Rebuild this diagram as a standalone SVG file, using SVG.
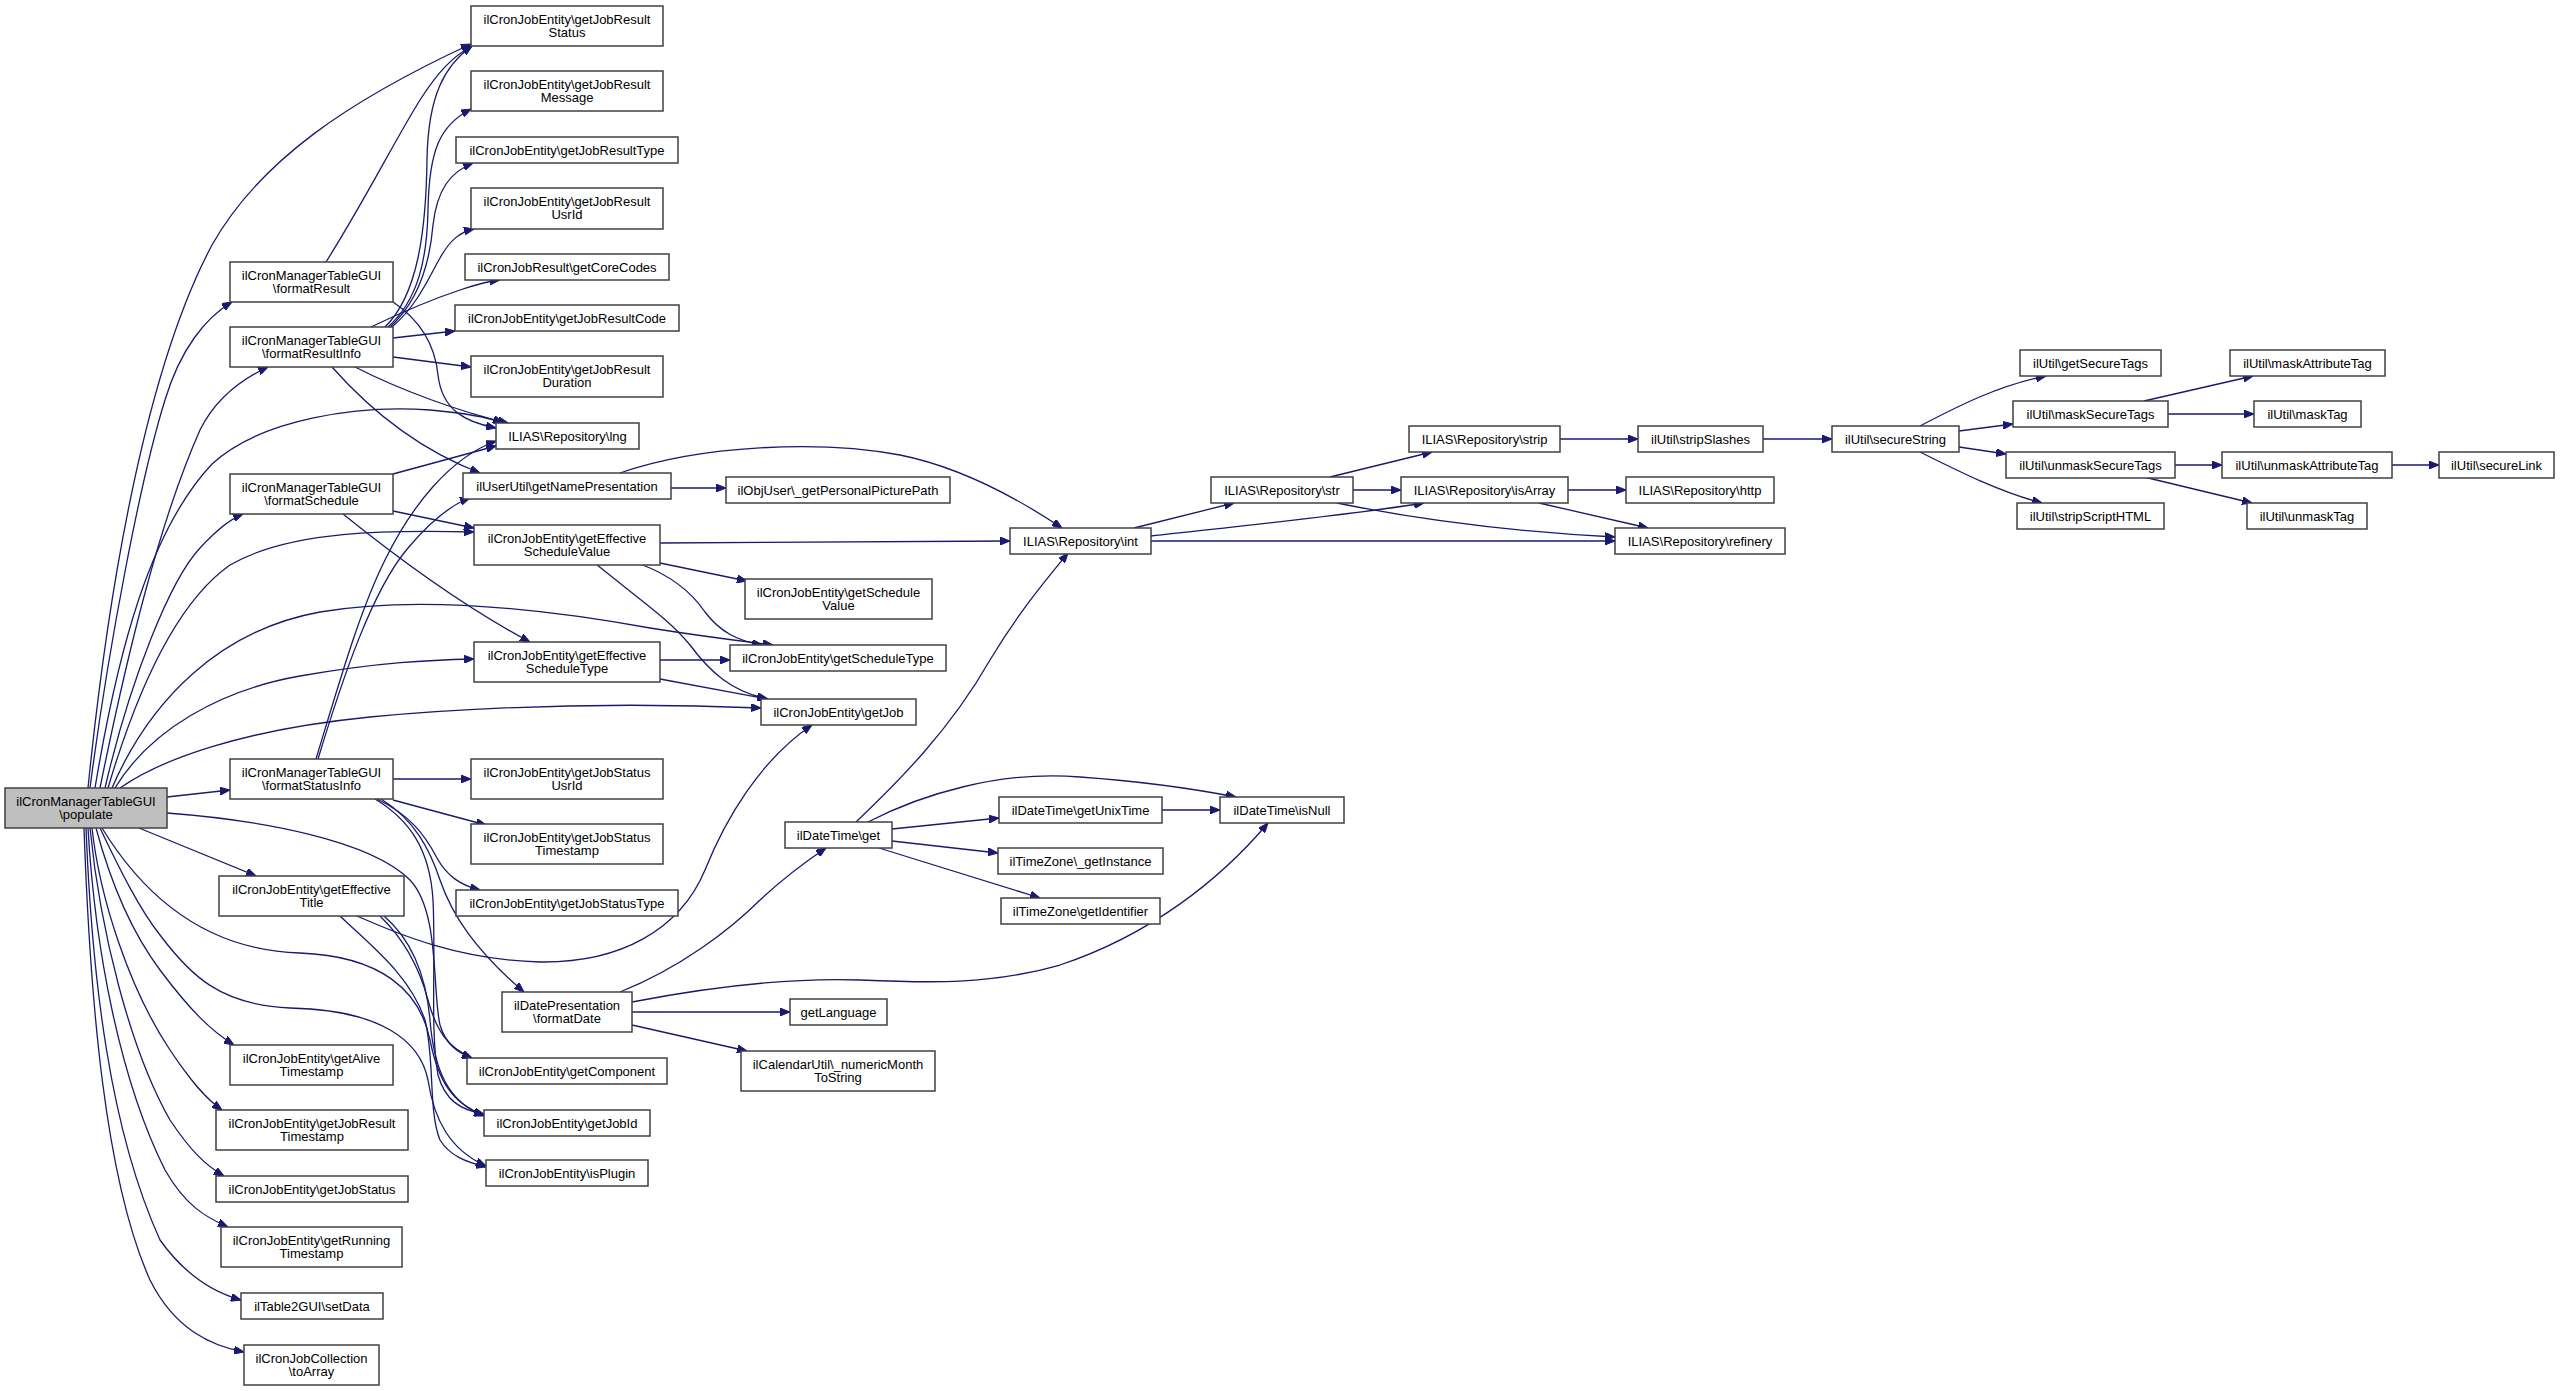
<svg xmlns="http://www.w3.org/2000/svg" width="2560" height="1391" viewBox="0 0 2560 1391">
<style>
.n rect{fill:#ffffff;stroke:#404040;stroke-width:1.5}
.n.root rect{fill:#bfbfbf}
.n text{font-family:"Liberation Sans",Arial,sans-serif;font-size:13px;fill:#000;text-anchor:middle}
.e path{fill:none;stroke:#191970;stroke-width:1.3;marker-end:url(#arr)}
</style>
<defs>
<marker id="arr" viewBox="0 0 10 8" refX="10" refY="4" markerWidth="10" markerHeight="8" markerUnits="userSpaceOnUse" orient="auto">
<path d="M0,0 L10,4 L0,8 z" fill="#191970" stroke="#191970" stroke-width="1"/>
</marker>
</defs>
<rect width="2560" height="1391" fill="#ffffff"/>
<g id="edges" class="e">
<path d="M88,788 C105,620 140,380 212,245 C260,160 350,100 471,44"/>
<path d="M326,262 C365,200 395,140 420,100 C438,72 452,57 472,46"/>
<path d="M385,327 C418,295 426,230 427,160 C428,95 445,65 472,46"/>
<path d="M388,327 C418,300 427,260 428,210 C429,150 440,125 471,109"/>
<path d="M390,327 C420,300 430,260 433,225 C437,190 450,172 473,163"/>
<path d="M392,327 C418,305 430,275 440,258 C450,240 460,232 474,229"/>
<path d="M371,327 C400,313 430,300 460,290 C475,285 488,281 500,280"/>
<path d="M393,338 L455,331"/>
<path d="M393,357 L471,367"/>
<path d="M355,367 C400,390 460,412 508,423"/>
<path d="M332,367 C370,410 420,450 480,473"/>
<path d="M393,302 C420,320 435,345 438,375 C442,410 465,422 496,428"/>
<path d="M95,788 C118,650 150,530 212,464 C262,418 360,405 430,410 C465,413 490,418 503,423"/>
<path d="M316,759 C340,680 360,610 385,560 C412,505 450,458 496,441"/>
<path d="M318,759 C342,680 372,590 408,548 C430,522 450,505 470,498"/>
<path d="M393,474 L496,446"/>
<path d="M393,511 L474,528"/>
<path d="M343,514 C400,560 470,610 530,642"/>
<path d="M90,788 C108,650 140,480 165,400 C180,350 205,318 232,302"/>
<path d="M100,788 C128,650 160,520 200,430 C215,400 240,380 268,367"/>
<path d="M105,788 C130,680 170,580 200,548 C215,532 228,520 243,514"/>
<path d="M108,788 C140,680 180,600 230,565 C290,530 390,530 474,532"/>
<path d="M112,788 C150,700 220,630 320,612 C420,595 550,610 650,628 C700,636 740,641 773,645"/>
<path d="M115,788 C150,730 220,690 300,676 C380,662 430,660 474,659"/>
<path d="M120,788 C160,760 240,730 370,717 C500,705 640,703 761,708"/>
<path d="M167,797 L230,790"/>
<path d="M139,828 L256,876"/>
<path d="M167,813 C260,820 370,840 410,880 C440,912 432,990 440,1025 C446,1045 458,1053 472,1058"/>
<path d="M102,828 C140,890 200,950 300,953 C380,956 420,990 430,1040 C438,1080 452,1104 484,1115"/>
<path d="M100,828 C120,870 140,910 160,935 C190,975 220,1005 290,1008 C380,1010 420,1040 428,1080 C434,1120 450,1150 486,1166"/>
<path d="M96,828 C110,880 130,930 160,970 C190,1010 210,1030 234,1045"/>
<path d="M92,828 C100,900 130,990 170,1050 C190,1080 205,1098 222,1110"/>
<path d="M90,828 C100,930 130,1050 170,1120 C190,1150 205,1165 224,1176"/>
<path d="M88,828 C95,950 120,1080 165,1170 C185,1205 205,1217 228,1227"/>
<path d="M86,828 C92,980 110,1130 160,1240 C185,1275 212,1292 241,1300"/>
<path d="M84,828 C90,1000 105,1180 150,1280 C175,1330 212,1346 244,1352"/>
<path d="M357,916 C400,935 460,960 540,962 C620,963 680,930 705,870 C725,820 760,760 812,725"/>
<path d="M340,916 C370,945 410,975 425,1020 C435,1060 428,1110 440,1140 C450,1156 466,1162 486,1167"/>
<path d="M380,916 C405,940 420,970 428,1000 C436,1030 448,1048 472,1058"/>
<path d="M384,916 C412,940 426,975 430,1020 C434,1070 448,1102 484,1116"/>
<path d="M375,799 C410,820 430,850 433,900 C436,960 430,1030 438,1075 C445,1100 460,1110 484,1114"/>
<path d="M393,779 L471,779"/>
<path d="M393,800 L486,825"/>
<path d="M377,799 C410,815 425,835 437,858 C447,876 460,885 480,890"/>
<path d="M381,799 C415,820 430,850 440,880 C452,915 475,950 524,992"/>
<path d="M671,488 L726,488"/>
<path d="M620,473 C700,445 820,440 900,455 C960,467 1020,500 1062,528"/>
<path d="M660,543 L1010,541"/>
<path d="M660,563 L747,581"/>
<path d="M640,564 C670,575 690,590 705,612 C720,632 738,641 762,645"/>
<path d="M596,564 C640,600 670,620 690,645 C710,672 732,692 768,699"/>
<path d="M660,660 L730,660"/>
<path d="M660,679 L767,699"/>
<path d="M620,992 C680,968 730,930 760,900 C788,874 808,860 826,848"/>
<path d="M632,1002 C720,985 800,978 860,980 C930,983 990,985 1060,965 C1150,935 1220,880 1268,823"/>
<path d="M632,1012 L790,1012"/>
<path d="M632,1025 L747,1051"/>
<path d="M856,822 C900,780 950,730 990,660 C1020,610 1050,575 1068,553"/>
<path d="M868,822 C920,795 1000,770 1080,777 C1150,782 1200,790 1236,797"/>
<path d="M892,829 L999,818"/>
<path d="M892,841 L998,853"/>
<path d="M879,848 L1040,898"/>
<path d="M1162,810 L1220,810"/>
<path d="M1134,528 L1234,503"/>
<path d="M1151,536 C1250,525 1350,515 1424,503"/>
<path d="M1151,541 L1615,541"/>
<path d="M1353,490 L1401,490"/>
<path d="M1337,503 C1420,520 1520,532 1615,537"/>
<path d="M1330,477 L1432,452"/>
<path d="M1568,490 L1626,490"/>
<path d="M1539,503 L1648,528"/>
<path d="M1560,439 L1638,439"/>
<path d="M1763,439 L1832,439"/>
<path d="M1920,426 C1960,405 2000,385 2046,376"/>
<path d="M1959,431 L2013,424"/>
<path d="M1959,447 L2006,454"/>
<path d="M1920,452 C1960,472 2000,492 2042,503"/>
<path d="M2144,401 L2253,376"/>
<path d="M2168,414 L2254,414"/>
<path d="M2175,465 L2222,465"/>
<path d="M2392,465 L2439,465"/>
<path d="M2144,477 L2252,503"/>
</g>
<g id="populate" class="n root"><rect x="5" y="788" width="162" height="40"/><text x="86" y="805.5">ilCronManagerTableGUI</text><text x="86" y="819">\populate</text></g>
<g id="formatResult" class="n"><rect x="230" y="262" width="163" height="40"/><text x="311.5" y="279.5">ilCronManagerTableGUI</text><text x="311.5" y="293">\formatResult</text></g>
<g id="formatResultInfo" class="n"><rect x="230" y="327" width="163" height="40"/><text x="311.5" y="344.5">ilCronManagerTableGUI</text><text x="311.5" y="358">\formatResultInfo</text></g>
<g id="formatSchedule" class="n"><rect x="230" y="474" width="163" height="40"/><text x="311.5" y="491.5">ilCronManagerTableGUI</text><text x="311.5" y="505">\formatSchedule</text></g>
<g id="formatStatusInfo" class="n"><rect x="230" y="759" width="163" height="40"/><text x="311.5" y="776.5">ilCronManagerTableGUI</text><text x="311.5" y="790">\formatStatusInfo</text></g>
<g id="getEffectiveTitle" class="n"><rect x="219" y="876" width="185" height="40"/><text x="311.5" y="893.5">ilCronJobEntity\getEffective</text><text x="311.5" y="907">Title</text></g>
<g id="getAliveTimestamp" class="n"><rect x="230" y="1045" width="163" height="40"/><text x="311.5" y="1062.5">ilCronJobEntity\getAlive</text><text x="311.5" y="1076">Timestamp</text></g>
<g id="getJobResultTimestamp" class="n"><rect x="216" y="1110" width="192" height="40"/><text x="312" y="1127.5">ilCronJobEntity\getJobResult</text><text x="312" y="1141">Timestamp</text></g>
<g id="getJobStatus" class="n"><rect x="216" y="1176" width="192" height="26"/><text x="312" y="1193.5">ilCronJobEntity\getJobStatus</text></g>
<g id="getRunningTimestamp" class="n"><rect x="221" y="1227" width="181" height="40"/><text x="311.5" y="1244.5">ilCronJobEntity\getRunning</text><text x="311.5" y="1258">Timestamp</text></g>
<g id="setData" class="n"><rect x="241" y="1293" width="142" height="26"/><text x="312" y="1310.5">ilTable2GUI\setData</text></g>
<g id="toArray" class="n"><rect x="244" y="1345" width="135" height="40"/><text x="311.5" y="1362.5">ilCronJobCollection</text><text x="311.5" y="1376">\toArray</text></g>
<g id="getJobResultStatus" class="n"><rect x="471" y="6" width="192" height="40"/><text x="567" y="23.5">ilCronJobEntity\getJobResult</text><text x="567" y="37">Status</text></g>
<g id="getJobResultMessage" class="n"><rect x="471" y="71" width="192" height="40"/><text x="567" y="88.5">ilCronJobEntity\getJobResult</text><text x="567" y="102">Message</text></g>
<g id="getJobResultType" class="n"><rect x="456" y="137" width="222" height="26"/><text x="567" y="154.5">ilCronJobEntity\getJobResultType</text></g>
<g id="getJobResultUsrId" class="n"><rect x="471" y="188" width="192" height="41"/><text x="567" y="205.5">ilCronJobEntity\getJobResult</text><text x="567" y="219">UsrId</text></g>
<g id="getCoreCodes" class="n"><rect x="465" y="254" width="204" height="26"/><text x="567" y="271.5">ilCronJobResult\getCoreCodes</text></g>
<g id="getJobResultCode" class="n"><rect x="455" y="305" width="224" height="26"/><text x="567" y="322.5">ilCronJobEntity\getJobResultCode</text></g>
<g id="getJobResultDuration" class="n"><rect x="471" y="356" width="192" height="41"/><text x="567" y="373.5">ilCronJobEntity\getJobResult</text><text x="567" y="387">Duration</text></g>
<g id="lng" class="n"><rect x="496" y="423" width="143" height="26"/><text x="567.5" y="440.5">ILIAS\Repository\lng</text></g>
<g id="getNamePresentation" class="n"><rect x="463" y="473" width="208" height="26"/><text x="567" y="490.5">ilUserUtil\getNamePresentation</text></g>
<g id="getEffectiveScheduleValue" class="n"><rect x="474" y="525" width="186" height="40"/><text x="567" y="542.5">ilCronJobEntity\getEffective</text><text x="567" y="556">ScheduleValue</text></g>
<g id="getEffectiveScheduleType" class="n"><rect x="474" y="642" width="186" height="40"/><text x="567" y="659.5">ilCronJobEntity\getEffective</text><text x="567" y="673">ScheduleType</text></g>
<g id="getJobStatusUsrId" class="n"><rect x="471" y="759" width="192" height="40"/><text x="567" y="776.5">ilCronJobEntity\getJobStatus</text><text x="567" y="790">UsrId</text></g>
<g id="getJobStatusTimestamp" class="n"><rect x="471" y="824" width="192" height="40"/><text x="567" y="841.5">ilCronJobEntity\getJobStatus</text><text x="567" y="855">Timestamp</text></g>
<g id="getJobStatusType" class="n"><rect x="456" y="890" width="222" height="26"/><text x="567" y="907.5">ilCronJobEntity\getJobStatusType</text></g>
<g id="formatDate" class="n"><rect x="502" y="992" width="130" height="40"/><text x="567" y="1009.5">ilDatePresentation</text><text x="567" y="1023">\formatDate</text></g>
<g id="getComponent" class="n"><rect x="467" y="1058" width="200" height="26"/><text x="567" y="1075.5">ilCronJobEntity\getComponent</text></g>
<g id="getJobId" class="n"><rect x="484" y="1110" width="166" height="26"/><text x="567" y="1127.5">ilCronJobEntity\getJobId</text></g>
<g id="isPlugin" class="n"><rect x="486" y="1160" width="162" height="26"/><text x="567" y="1177.5">ilCronJobEntity\isPlugin</text></g>
<g id="getPersonalPicturePath" class="n"><rect x="726" y="477" width="224" height="26"/><text x="838" y="494.5">ilObjUser\_getPersonalPicturePath</text></g>
<g id="getScheduleValue" class="n"><rect x="745" y="579" width="187" height="40"/><text x="838.5" y="596.5">ilCronJobEntity\getSchedule</text><text x="838.5" y="610">Value</text></g>
<g id="getScheduleType" class="n"><rect x="730" y="645" width="216" height="26"/><text x="838" y="662.5">ilCronJobEntity\getScheduleType</text></g>
<g id="getJob" class="n"><rect x="761" y="699" width="155" height="26"/><text x="838.5" y="716.5">ilCronJobEntity\getJob</text></g>
<g id="ilDateTime_get" class="n"><rect x="785" y="822" width="107" height="26"/><text x="838.5" y="839.5">ilDateTime\get</text></g>
<g id="getLanguage" class="n"><rect x="790" y="999" width="97" height="26"/><text x="838.5" y="1016.5">getLanguage</text></g>
<g id="numericMonthToString" class="n"><rect x="741" y="1051" width="194" height="40"/><text x="838" y="1068.5">ilCalendarUtil\_numericMonth</text><text x="838" y="1082">ToString</text></g>
<g id="int" class="n"><rect x="1010" y="528" width="141" height="26"/><text x="1080.5" y="545.5">ILIAS\Repository\int</text></g>
<g id="getUnixTime" class="n"><rect x="999" y="797" width="163" height="26"/><text x="1080.5" y="814.5">ilDateTime\getUnixTime</text></g>
<g id="getInstance" class="n"><rect x="998" y="848" width="165" height="26"/><text x="1080.5" y="865.5">ilTimeZone\_getInstance</text></g>
<g id="getIdentifier" class="n"><rect x="1001" y="898" width="159" height="26"/><text x="1080.5" y="915.5">ilTimeZone\getIdentifier</text></g>
<g id="isNull" class="n"><rect x="1220" y="797" width="124" height="26"/><text x="1282" y="814.5">ilDateTime\isNull</text></g>
<g id="str" class="n"><rect x="1211" y="477" width="142" height="26"/><text x="1282" y="494.5">ILIAS\Repository\str</text></g>
<g id="strip" class="n"><rect x="1409" y="426" width="151" height="26"/><text x="1484.5" y="443.5">ILIAS\Repository\strip</text></g>
<g id="isArray" class="n"><rect x="1401" y="477" width="167" height="26"/><text x="1484.5" y="494.5">ILIAS\Repository\isArray</text></g>
<g id="http" class="n"><rect x="1626" y="477" width="148" height="26"/><text x="1700" y="494.5">ILIAS\Repository\http</text></g>
<g id="refinery" class="n"><rect x="1615" y="528" width="170" height="26"/><text x="1700" y="545.5">ILIAS\Repository\refinery</text></g>
<g id="stripSlashes" class="n"><rect x="1638" y="426" width="125" height="26"/><text x="1700.5" y="443.5">ilUtil\stripSlashes</text></g>
<g id="secureString" class="n"><rect x="1832" y="426" width="127" height="26"/><text x="1895.5" y="443.5">ilUtil\secureString</text></g>
<g id="getSecureTags" class="n"><rect x="2020" y="350" width="141" height="26"/><text x="2090.5" y="367.5">ilUtil\getSecureTags</text></g>
<g id="maskSecureTags" class="n"><rect x="2013" y="401" width="155" height="26"/><text x="2090.5" y="418.5">ilUtil\maskSecureTags</text></g>
<g id="unmaskSecureTags" class="n"><rect x="2006" y="452" width="169" height="26"/><text x="2090.5" y="469.5">ilUtil\unmaskSecureTags</text></g>
<g id="stripScriptHTML" class="n"><rect x="2017" y="503" width="147" height="26"/><text x="2090.5" y="520.5">ilUtil\stripScriptHTML</text></g>
<g id="maskAttributeTag" class="n"><rect x="2230" y="350" width="155" height="26"/><text x="2307.5" y="367.5">ilUtil\maskAttributeTag</text></g>
<g id="maskTag" class="n"><rect x="2254" y="401" width="107" height="26"/><text x="2307.5" y="418.5">ilUtil\maskTag</text></g>
<g id="unmaskAttributeTag" class="n"><rect x="2222" y="452" width="170" height="26"/><text x="2307" y="469.5">ilUtil\unmaskAttributeTag</text></g>
<g id="unmaskTag" class="n"><rect x="2247" y="503" width="120" height="26"/><text x="2307" y="520.5">ilUtil\unmaskTag</text></g>
<g id="secureLink" class="n"><rect x="2439" y="452" width="115" height="26"/><text x="2496.5" y="469.5">ilUtil\secureLink</text></g>
</svg>
